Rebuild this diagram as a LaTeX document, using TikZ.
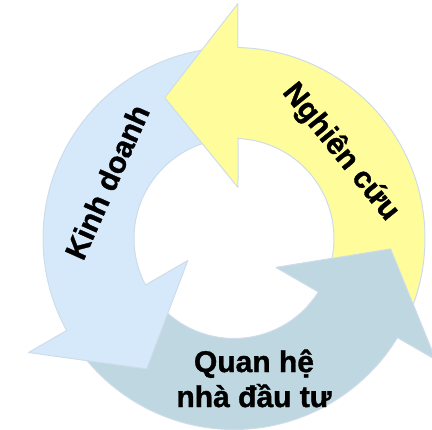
\documentclass[tikz,border=0pt]{standalone}
\usepackage{fontspec}
\setmainfont{Liberation Sans}
\newfontfamily\cybold{LiberationSans-Bold.ttf}[FakeBold=1.2]
\definecolor{cyYellow}{RGB}{255,253,155}
\definecolor{cyBlue}{RGB}{214,233,251}
\definecolor{cyGray}{RGB}{191,215,224}
\definecolor{cyEdge}{RGB}{206,220,234}
% one circular arrow, head at the top, tail on the right
\newcommand{\cycarrow}{(-26:191) arc[start angle=-26, end angle=88.8, radius=191] -- (4,235) -- (116.2:157) -- (4,51) -- (87.7:100) arc[start angle=87.7, end angle=-26, radius=100] -- cycle}
\begin{document}
\begin{tikzpicture}[x=1pt, y=1pt,
  arr/.style={draw=cyEdge, line width=1pt, line join=round},
  lbl/.style={font=\cybold\fontsize{30}{35}\selectfont, align=center, inner sep=0pt}]
\useasboundingbox (-234,-191.5) rectangle (198,238.5);
\clip (-234,-191.5) rectangle (198,238.5);
\begin{scope}[rotate=240]
\path[arr, fill=cyGray] \cycarrow;
\end{scope}
\begin{scope}[rotate=120]
\path[arr, fill=cyBlue] \cycarrow;
\end{scope}
\path[arr, fill=cyYellow] \cycarrow;
% head of the lower arrow again, over the yellow tail
\begin{scope}
\clip (0,0) -- (318:260) arc[start angle=318, end angle=375, radius=260] -- cycle;
\begin{scope}[rotate=240]
\path[arr, fill=cyGray] \cycarrow;
\end{scope}
\end{scope}
\node[lbl, rotate=66] (kinh) at (156:139) {Kinh doanh};
\node[lbl, rotate=-51] (nghien) at (39:137) {Nghiên cứu};
\node[lbl] (quanhe) at (20,-140) {Quan hệ\\nhà đầu tư};
\end{tikzpicture}
\end{document}
